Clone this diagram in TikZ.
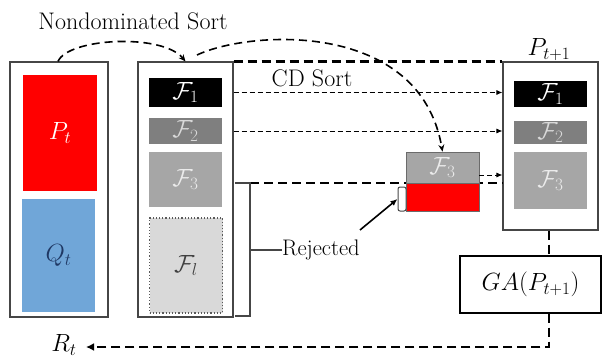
\documentclass[tikz,border=0pt]{standalone}
\usetikzlibrary{arrows.meta}

\definecolor{qblue}{RGB}{112,166,216}
\definecolor{qtext}{RGB}{31,56,100}
\definecolor{gdark}{RGB}{127,127,127}
\definecolor{gmid}{RGB}{166,166,166}
\definecolor{glight}{RGB}{217,217,217}
\definecolor{edge}{RGB}{70,70,70}

\begin{document}
\begin{tikzpicture}[x=1pt,y=-1pt,
  frame/.style={draw=edge, line width=1.1pt, fill=white, inner sep=0pt},
  block/.style={inner sep=0pt, draw=none, font=\fontsize{24}{28}\selectfont},
  label/.style={inner sep=0pt, font=\rmfamily\fontsize{22.5}{26}\selectfont},
  thickdash/.style={line width=2.2pt, dash pattern=on 9pt off 5pt},
  curvedash/.style={line width=1.6pt, dash pattern=on 8pt off 5pt, -{Stealth[length=7pt,width=6pt]}},
  thindash/.style={line width=0.9pt, dash pattern=on 5pt off 3pt, -{Latex[length=6pt,width=5pt]}},
]
\useasboundingbox (0,0) rectangle (602,361);

% population R_t = P_t + Q_t
\node[frame, minimum width=98pt, minimum height=255pt] (L) at (59,189.5) {};
\node[block, fill=red, text=white, minimum width=74pt, minimum height=116pt] (Pt) at (60,133) {$P_t$};
\node[block, fill=qblue, text=qtext, minimum width=73pt, minimum height=113pt] (Qt) at (58.5,255.5) {$Q_t$};

% fronts after nondominated sorting
\node[frame, minimum width=95pt, minimum height=255pt] (M) at (185.5,189.5) {};
\node[block, fill=black, text=white, minimum width=73pt, minimum height=29pt] (F1) at (185.5,92.5) {$\mathcal{F}_1$};
\node[block, fill=gdark, text=glight, minimum width=73pt, minimum height=26pt] (F2) at (185.5,131) {$\mathcal{F}_2$};
\node[block, fill=gmid, text=white!92!black, minimum width=73pt, minimum height=55pt] (F3) at (185.5,179.5) {$\mathcal{F}_3$};
\node[block, fill=glight, draw=edge!90, line width=1.2pt, dotted, text=black!75, minimum width=73pt, minimum height=95pt] (Fl) at (186,265.5) {$\mathcal{F}_l$};

% next population
\node[frame, minimum width=95pt, minimum height=168pt] (R) at (550.5,146) {};
\node[block, fill=black, text=white, minimum width=73pt, minimum height=26pt] (RF1) at (550.5,94) {$\mathcal{F}_1$};
\node[block, fill=gdark, text=glight, minimum width=73pt, minimum height=23pt] (RF2) at (550.5,132.5) {$\mathcal{F}_2$};
\node[block, fill=gmid, text=white!92!black, minimum width=73pt, minimum height=57pt] (RF3) at (550.5,180.5) {$\mathcal{F}_3$};
\node[label, anchor=south, font=\fontsize{26}{30}\selectfont] (Pnext) at (549,61) {$P_{t+1}$};

% split front: thick dashed cut line drawn first, boxes on top
\draw[thickdash] (250,183) -- (R.west |- 0,183);
\node[block, fill=gmid, text=white!92!black, draw=edge!80, line width=0.8pt, minimum width=73pt, minimum height=31pt] (MF3) at (442.5,167.5) {$\mathcal{F}_3$};
\node[block, fill=red, draw=edge!80, line width=0.8pt, minimum width=73pt, minimum height=28pt] (MRed) at (442.5,197) {};
\node[draw=edge, line width=1pt, rounded corners=2pt, fill=white, inner sep=0pt, minimum width=8pt, minimum height=24pt] (rej) at (402,199) {};

% labels
\node[label, font=\rmfamily\fontsize{24}{28}\selectfont] (nds) at (133,21) {Nondominated Sort};
\node[label, font=\rmfamily\fontsize{24}{28}\selectfont] (cds) at (312,78) {CD Sort};
\node[label, anchor=west] (rjt) at (282,250) {Rejected};
\node[label, font=\fontsize{26}{30}\selectfont] (Rt) at (64,345) {$R_t$};
\node[draw=black, line width=1.1pt, fill=white, inner sep=0pt, minimum width=141pt, minimum height=57pt, font=\fontsize{27}{30}\selectfont] (GA) at (530.5,284.5) {$GA(P_{t+1})$};

% nondominated sorting arcs
\draw[curvedash] (L.north -| 58,0) .. controls (68,38) and (162,33) .. (M.north);
\draw[curvedash] (197,55) .. controls (250,30) and (420,20) .. (MF3.north);

% crowding-distance sorting
\draw[thickdash] (M.north east) -- (R.north west);
\draw[thindash] (M.east |- F1) -- (R.west |- F1);
\draw[thindash] (M.east |- F2) -- (R.west |- F2);
\draw[thindash] (MF3.east |- 0,175) -- (R.west |- 0,175);

% rejected bracket
\draw[line width=1.3pt, edge] (235,183) -- (250,183) -- (250,316) -- (235,316);
\draw[line width=1.3pt, edge] (250,250) -- (rjt.west);
\coordinate (rtail) at (360,230);
\draw[line width=1.6pt, -{Latex[length=7pt,width=6pt]}] (rtail) -- (rej.west);

% loop back to R_t
\coordinate (corner) at (549,347);
\coordinate (rtip) at (86,347);
\draw[thickdash] (R.south -| corner) -- (GA.north -| corner);
\draw[thickdash, -{Latex[length=8pt,width=8pt]}] (GA.south -| corner) -- (corner) -- (rtip);
\end{tikzpicture}
\end{document}
